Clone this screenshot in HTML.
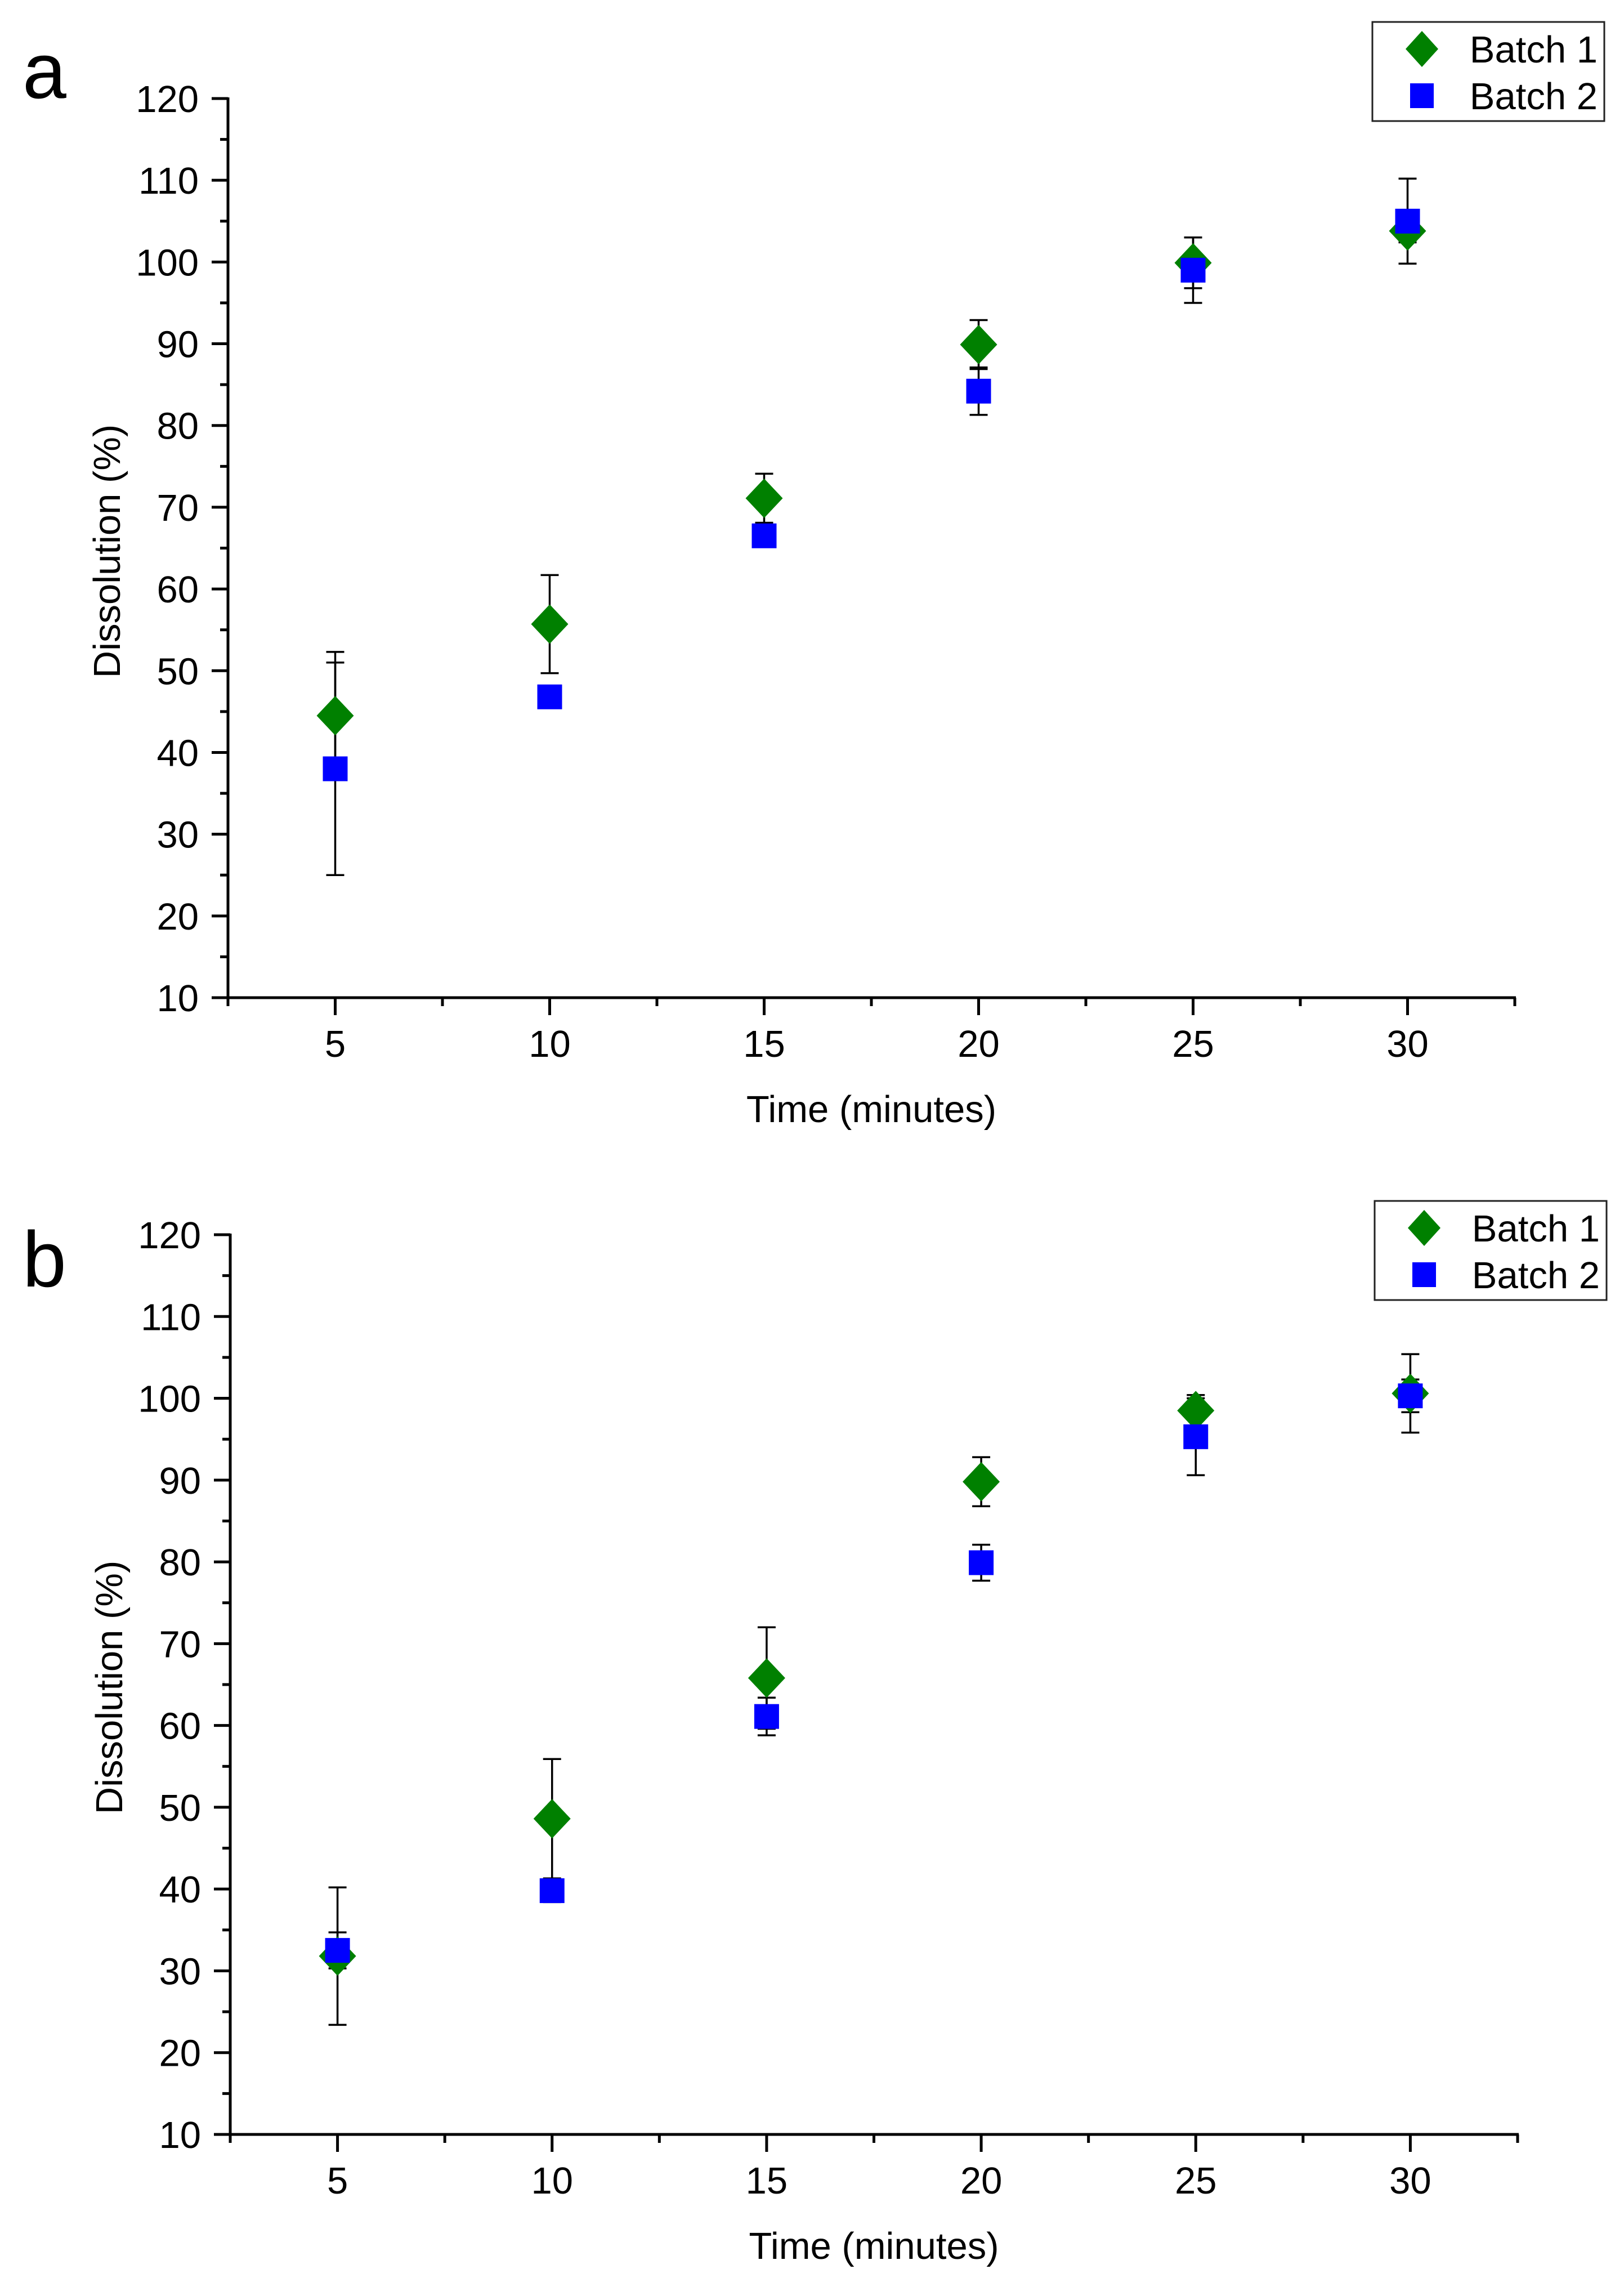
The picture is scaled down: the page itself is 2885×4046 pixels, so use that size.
<!DOCTYPE html>
<html><head><meta charset="utf-8"><style>
html,body{margin:0;padding:0;background:#fff;}
svg{display:block;font-family:"Liberation Sans",Arial,sans-serif;}
</style></head><body>
<svg id="fig" width="2885" height="4046" viewBox="0 0 2885 4046" xmlns="http://www.w3.org/2000/svg"></svg>
<script>
const times = [5, 10, 15, 20, 25, 30];
const aBatch1 = [44.5, 55.7, 71.1, 89.9, 99.9, 103.8];
const aBatch1Err = [7.8, 6.0, 3.0, 3.0, 3.1, 1.4];
const aBatch2 = [38.0, 46.8, 66.5, 84.2, 99.0, 105.0];
const aBatch2Err = [13.0, 1.2, 1.2, 2.9, 4.0, 5.2];
const bBatch1 = [31.8, 48.6, 65.8, 89.8, 98.5, 100.6];
const bBatch1Err = [8.4, 7.3, 6.2, 3.0, 1.9, 4.8];
const bBatch2 = [32.5, 39.8, 61.1, 79.9, 95.3, 100.3];
const bBatch2Err = [2.2, 1.4, 2.3, 2.2, 4.7, 2.0];
const yTicks = [10, 20, 30, 40, 50, 60, 70, 80, 90, 100, 110, 120];
const xTicks = [5, 10, 15, 20, 25, 30];
const seriesNames = ["Batch 1", "Batch 2"];

const NS = "http://www.w3.org/2000/svg";
const svg = document.getElementById("fig");
function mk(tag, attrs, parent) {
  const e = document.createElementNS(NS, tag);
  for (const k in attrs) e.setAttribute(k, attrs[k]);
  (parent || svg).appendChild(e);
  return e;
}

function panel(cfg) {
  const g = mk("g", {});
  
  
  const L = cfg.left, R = cfg.right, T = cfg.top, B = cfg.bottom;
  const xs = v => L + (v - 2.5) / 30 * (R - L);
  const ys = v => B - (v - 10) / 110 * (B - T);

  const letter = mk("text", {x: cfg.letterX, y: cfg.letterY, "font-size": 140, fill: "#000"}, g);
  letter.textContent = cfg.letter;
  
  

  const ax = mk("g", {stroke: "#000", "stroke-width": 5, fill: "none"}, g);
  
  
  mk("line", {x1: L, y1: T - 2, x2: L, y2: B + 2}, ax);
  mk("line", {x1: L - 29, y1: B, x2: R + 2, y2: B}, ax);
  for (let v = 10; v <= 120; v += 5) {
    const major = (v % 10 === 0);
    mk("line", {x1: L - (major ? 29 : 14), y1: ys(v), x2: L, y2: ys(v)}, ax);
  }
  yTicks.forEach(v => {
    const t = mk("text", {x: L - 52, y: ys(v) + 24, "font-size": 67, "text-anchor": "end", fill: "#000", stroke: "none"}, g);
    t.textContent = v;
    
    
  });
  for (let v = 2.5; v <= 32.5; v += 2.5) {
    const major = (Math.abs(v % 5) < 0.01);
    mk("line", {x1: xs(v), y1: B, x2: xs(v), y2: B + (major ? 31 : 15)}, ax);
  }
  xTicks.forEach(v => {
    const t = mk("text", {x: xs(v), y: B + 105, "font-size": 67, "text-anchor": "middle", fill: "#000"}, g);
    t.textContent = v;
    
    
  });
  const xt = mk("text", {x: (L + R) / 2, y: cfg.xTitleY, "font-size": 67, "text-anchor": "middle", fill: "#000"}, g);
  xt.textContent = "Time (minutes)";
  
  
  const yt = mk("text", {x: 0, y: 0, "font-size": 67, "text-anchor": "middle", fill: "#000",
    transform: "translate(" + cfg.yTitleX + "," + cfg.yTitleY + ") rotate(-90)"}, g);
  yt.textContent = "Dissolution (%)";
  
  

  function errs(vals, er, name) {
    const eg = mk("g", {stroke: "#000", "stroke-width": 3.5}, g);
    
    
    times.forEach((t, i) => {
      const x = xs(t), y1 = ys(vals[i] + er[i]), y2 = ys(vals[i] - er[i]);
      mk("line", {x1: x, y1: y1, x2: x, y2: y2}, eg);
      mk("line", {x1: x - 16, y1: y1, x2: x + 16, y2: y1}, eg);
      mk("line", {x1: x - 16, y1: y2, x2: x + 16, y2: y2}, eg);
    });
  }
  errs(cfg.b1, cfg.b1e, 'batch1-error-bars');
  errs(cfg.b2, cfg.b2e, 'batch2-error-bars');
  times.forEach((t, i) => {
    const x = xs(t), y = ys(cfg.b1[i]);
    const d = mk("polygon", {points: (x - 33) + "," + y + " " + x + "," + (y - 35) + " " + (x + 33) + "," + y + " " + x + "," + (y + 35), fill: "#008000"}, g);
    
    
  });
  times.forEach((t, i) => {
    const x = xs(t), y = ys(cfg.b2[i]);
    const s = mk("rect", {x: x - 22, y: y - 22, width: 44, height: 44, fill: "#0000ff"}, g);
    
    
  });

  const lg = mk("g", {}, g);
  
  
  mk("rect", {x: cfg.legX, y: cfg.legY, width: 412, height: 176, fill: "#fff", stroke: "#222", "stroke-width": 3}, lg);
  const dx = cfg.legX + 88, dy1 = cfg.legY + 48, dy2 = cfg.legY + 131;
  const ld = mk("polygon", {points: (dx - 29) + "," + dy1 + " " + dx + "," + (dy1 - 32) + " " + (dx + 29) + "," + dy1 + " " + dx + "," + (dy1 + 32), fill: "#008000"}, lg);
  
  
  const ls = mk("rect", {x: dx - 21, y: dy2 - 22, width: 42, height: 44, fill: "#0000ff"}, lg);
  
  
  [dy1, dy2].forEach((yy, i) => {
    const t = mk("text", {x: cfg.legX + 400, y: yy + 24, "font-size": 67, "text-anchor": "end", fill: "#000"}, lg);
    t.textContent = seriesNames[i];
    
    
  });
}

panel({letter: "a", letterX: 40, letterY: 174, left: 405, right: 2691, top: 175, bottom: 1772,
  xTitleY: 1993, yTitleX: 213, yTitleY: 979, legX: 2438, legY: 39,
  b1: aBatch1, b1e: aBatch1Err, b2: aBatch2, b2e: aBatch2Err});
panel({letter: "b", letterX: 40, letterY: 2285, left: 409, right: 2696, top: 2193, bottom: 3791,
  xTitleY: 4012, yTitleX: 217, yTitleY: 2997, legX: 2442, legY: 2133,
  b1: bBatch1, b1e: bBatch1Err, b2: bBatch2, b2e: bBatch2Err});
</script>
</body></html>
